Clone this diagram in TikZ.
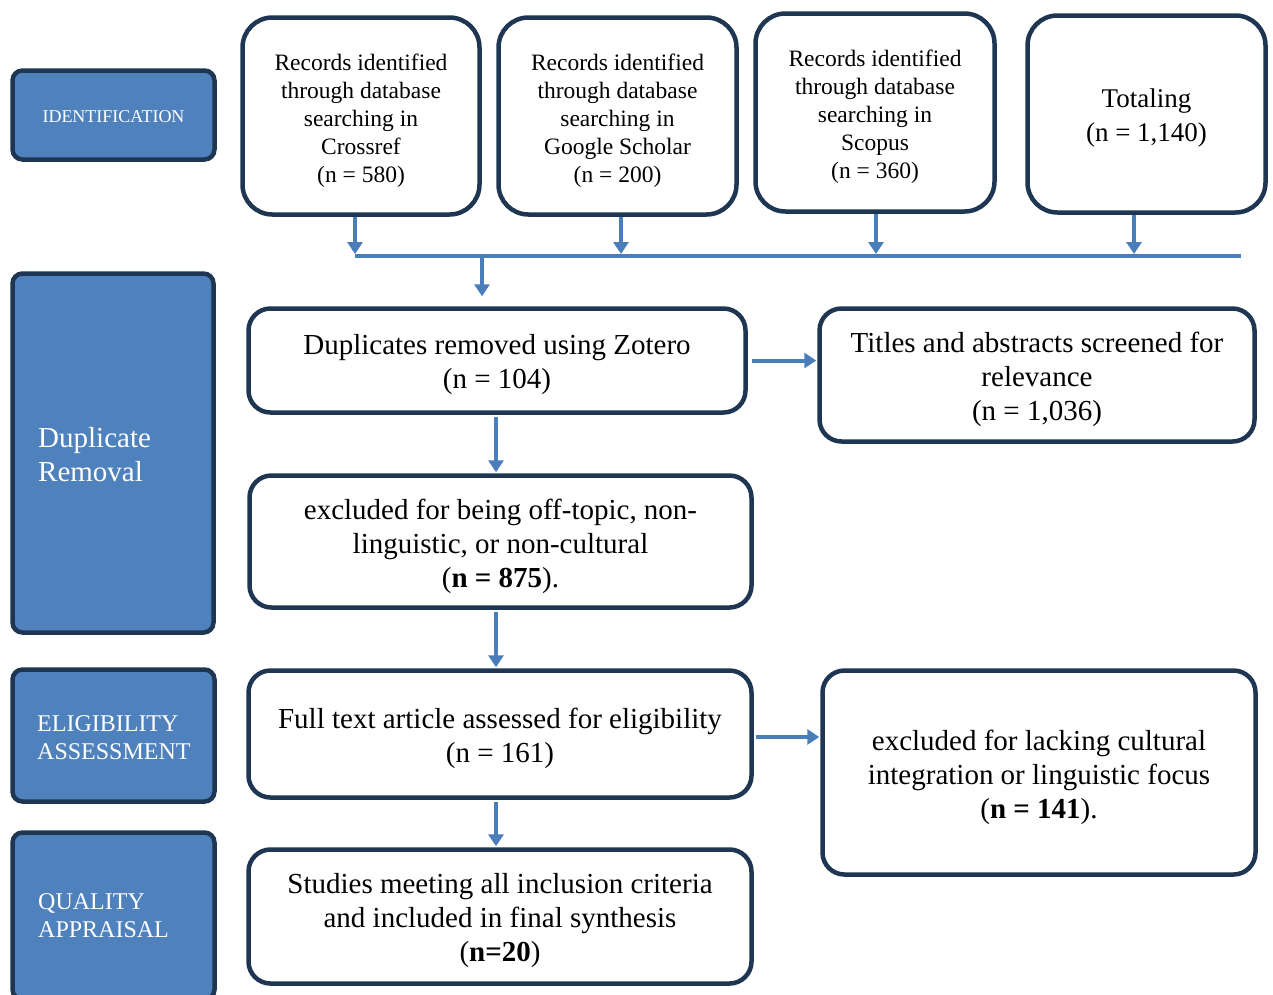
\documentclass[tikz,border=0pt]{standalone}
\usepackage{fontspec}
\setmainfont{Liberation Serif}
\usetikzlibrary{arrows.meta,calc}
\definecolor{boxblue}{HTML}{4F81BD}
\definecolor{navy}{HTML}{1F3653}
\definecolor{arrowblue}{HTML}{4A7EBB}
\begin{document}
\begin{tikzpicture}[x=1pt,y=-1pt,
 wbox/.style={draw=navy, line width=4.5pt, fill=white, inner sep=0pt},
 topbox/.style={wbox, rounded corners=30pt},
 mainbox/.style={wbox, rounded corners=22pt},
 toptext/.style={inner sep=0pt, align=center, text=black, font=\fontsize{23.5}{28}\selectfont},
 maintext/.style={inner sep=0pt, align=center, text=black, font=\fontsize{29}{34}\selectfont},
 phase/.style={draw=navy, line width=4.5pt, fill=boxblue, rounded corners=10pt, inner sep=0pt, text=white},
 phasetext/.style={text=white, inner sep=0pt, anchor=west, align=left},
 arr/.style={draw=arrowblue, line width=4pt, -{Triangle[width=15pt,length=12pt]}},
 bus/.style={draw=arrowblue, line width=4.5pt}
]
\useasboundingbox (0,0) rectangle (1273,994);

% phase labels
\node[phase, minimum width=202, minimum height=89, font=\fontsize{18}{22}\selectfont] (id) at (113.5,115) {};
\node[inner sep=0pt, text=white, font=\fontsize{18}{22}\selectfont] (idt) at ([yshift=-1.5pt]id.center) {IDENTIFICATION};
\node[phase, minimum width=201, minimum height=359] (dr) at (113,453) {};
\node[phasetext, font=\fontsize{29}{34}\selectfont] (drt) at (38,455) {Duplicate\\Removal};
\node[phase, minimum width=202, minimum height=132] (ea) at (113.5,735.5) {};
\node[phasetext, font=\fontsize{24}{28}\selectfont] (eat) at (37,738) {ELIGIBILITY\\ASSESSMENT};
\begin{scope}
\clip (0,0) rectangle (1273,994);
\node[phase, minimum width=202, minimum height=167] (qa) at (113.5,916) {};
\end{scope}
\node[phasetext, font=\fontsize{24}{28}\selectfont] (qat) at (38,916) {QUALITY\\APPRAISAL};

% top boxes
\node[topbox, minimum width=237, minimum height=197] (b1) at (361,116) {};
\node[toptext] (b1t) at ([yshift=-4.5pt]b1.center) {Records identified\\through database\\searching in\\Crossref\\(n = 580)};
\node[topbox, minimum width=238, minimum height=197] (b2) at (617.5,116) {};
\node[toptext] (b2t) at ([yshift=-4.5pt]b2.center) {Records identified\\through database\\searching in\\Google Scholar\\(n = 200)};
\node[topbox, minimum width=239, minimum height=198] (b3) at (875,112.5) {};
\node[toptext] (b3t) at ([yshift=-4.5pt]b3.center) {Records identified\\through database\\searching in\\Scopus\\(n = 360)};
\node[topbox, minimum width=238, minimum height=197] (b4) at (1146.5,114) {};
\node[toptext, font=\fontsize{27}{34}\selectfont] (b4t) at ([yshift=-4.5pt]b4.center) {Totaling\\(n = 1,140)};

% bus
\coordinate (j1) at (355,256);
\coordinate (j2) at (621,256);
\coordinate (j3) at (876,256);
\coordinate (j4) at (1134,256);
\coordinate (j0) at (482,256);
\coordinate (busR) at (1241,256);
\draw[bus] (j1) -- (busR);
\draw[arr, shorten >=2pt] (b1.south -| j1) -- (j1);
\draw[arr, shorten >=2pt] (b2.south -| j2) -- (j2);
\draw[arr, shorten >=2pt] (b3.south -| j3) -- (j3);
\draw[arr, shorten >=2pt] (b4.south -| j4) -- (j4);

% main boxes
\node[mainbox, minimum width=497, minimum height=104] (dup) at (497,360.5) {};
\node[maintext] (dupt) at ([yshift=-4.5pt]dup.center) {Duplicates removed using Zotero\\(n = 104)};
\node[mainbox, minimum width=435, minimum height=133] (tit) at (1037,375) {};
\node[maintext] (titt) at ([yshift=-4.5pt]tit.center) {Titles and abstracts screened for\\relevance\\(n = 1,036)};
\node[mainbox, minimum width=502, minimum height=132] (exa) at (500.5,541.5) {};
\node[maintext] (exat) at ([yshift=-5pt]exa.center) {excluded for being off-topic, non-\\linguistic, or non-cultural\\(\textbf{n = 875}).};
\node[mainbox, minimum width=503, minimum height=127] (full) at (500,734) {};
\node[maintext] (fullt) at ([yshift=-4.5pt]full.center) {Full text article assessed for eligibility\\(n = 161)};
\node[mainbox, minimum width=433, minimum height=204] (exb) at (1039,772.5) {};
\node[maintext] (exbt) at ([yshift=-4.5pt]exb.center) {excluded for lacking cultural\\integration or linguistic focus\\(\textbf{n = 141}).};
\node[mainbox, minimum width=503, minimum height=134] (stu) at (500,916.5) {};
\node[maintext] (stut) at ([yshift=-4.5pt]stu.center) {Studies meeting all inclusion criteria\\and included in final synthesis\\(\textbf{n=20})};

% connectors
\coordinate (vx) at (496,0);
\draw[arr, shorten <=2pt, shorten >=10pt] (j0) -- (j0 |- dup.north);
\draw[arr, shorten <=2pt, shorten >=1pt] (dup.south -| vx) -- (exa.north -| vx);
\draw[arr, shorten <=2pt, shorten >=1pt] (exa.south -| vx) -- (full.north -| vx);
\draw[arr, shorten <=2pt, shorten >=1pt] (full.south -| vx) -- (stu.north -| vx);
\draw[arr, shorten <=4pt, shorten >=1pt] (dup.east) -- (dup.east -| tit.west);
\draw[arr, shorten <=2pt, shorten >=1pt] ($(full.east)+(0,3)$) -- ($(full.east -| exb.west)+(0,3)$);
\end{tikzpicture}
\end{document}
